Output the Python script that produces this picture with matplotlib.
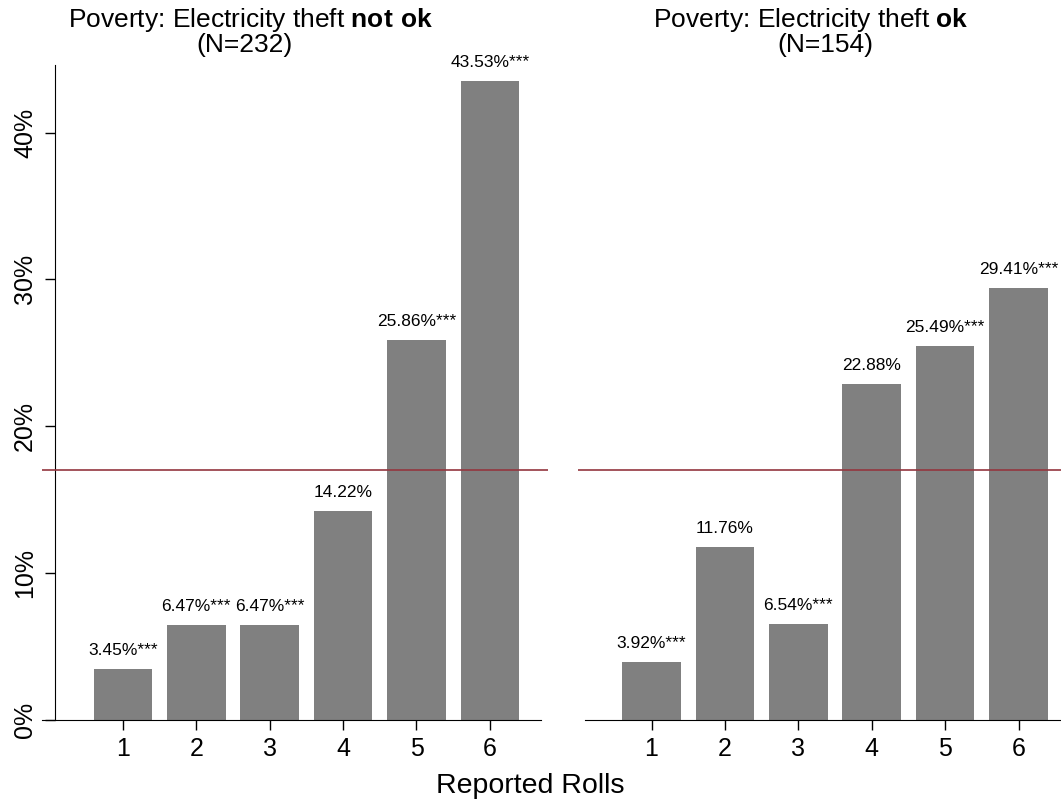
import numpy as np
import matplotlib.pyplot as plt

plt.rcParams['font.family'] = ['Liberation Sans', 'DejaVu Sans']
plt.rcParams['mathtext.fontset'] = 'custom'
plt.rcParams['mathtext.rm'] = 'Liberation Sans'
plt.rcParams['mathtext.bf'] = 'Liberation Sans:bold'

rolls = [1, 2, 3, 4, 5, 6]
share_not_ok = [3.45, 6.47, 6.47, 14.22, 25.86, 43.53]
stars_not_ok = ["***", "***", "***", "", "***", "***"]
share_ok = [3.92, 11.76, 6.54, 22.88, 25.49, 29.41]
stars_ok = ["***", "", "***", "", "***", "***"]
n_not_ok = 232
n_ok = 154
expected = 17.0  # reference line (1/6, rounded)
yticks = [0, 10, 20, 30, 40]

bar_col = "#808080"
line_col = "#94363F"

W, H = 1061, 801
fig = plt.figure(figsize=(W / 100, H / 100), dpi=100)

def px_axes(x0, x1, y0, y1):
    return fig.add_axes([x0 / W, 1 - y1 / H, (x1 - x0) / W, (y1 - y0) / H])

def to_data(px, centre1):
    return 1 + (px - centre1) / 73.4

def panel(ax, vals, stars, px0, px1, centre1, spine_px, axis_px, show_y):
    ax.set_xlim(to_data(px0, centre1), to_data(px1, centre1))
    ax.set_ylim(0, 44.6)
    ax.bar(rolls, vals, width=0.8, color=bar_col, zorder=2)
    ax.axhline(expected, color=line_col, lw=1.2, zorder=3)
    for x, v, s in zip(rolls, vals, stars):
        ax.annotate(f"{v:.2f}%{s}", (x, v), xytext=(0, 8), textcoords="offset points",
                    ha="center", va="bottom", fontsize=12.5)
    for side in ("top", "right"):
        ax.spines[side].set_visible(False)
    ax.spines["bottom"].set_bounds(to_data(axis_px[0], centre1), to_data(axis_px[1], centre1))
    ax.set_xticks(rolls)
    ax.tick_params(axis="x", length=7, width=1, labelsize=18, pad=5)
    if show_y:
        ax.spines["left"].set_position(("data", to_data(spine_px, centre1)))
        ax.set_yticks(yticks)
        ax.set_yticklabels([f"{t}%" for t in yticks], rotation=90, va="center")
        ax.tick_params(axis="y", length=7, width=1, labelsize=18, pad=6)
    else:
        ax.spines["left"].set_visible(False)
        ax.set_yticks([])

ax1 = px_axes(42, 548, 65, 720)
panel(ax1, share_not_ok, stars_not_ok, 42, 548, 122.9, 55, (42, 541), True)
ax2 = px_axes(578, 1061, 65, 720)
panel(ax2, share_ok, stars_ok, 578, 1061, 651.5, None, (585, 1061), False)

fig.text(251 / W, 1 - 20 / H, r"Poverty: Electricity theft $\bf{not\ ok}$",
         ha="center", va="center", fontsize=19)
fig.text(245 / W, 1 - 45 / H, f"(N={n_not_ok})", ha="center", va="center", fontsize=19)
fig.text(811 / W, 1 - 20 / H, r"Poverty: Electricity theft $\bf{ok}$",
         ha="center", va="center", fontsize=19)
fig.text(825 / W, 1 - 45 / H, f"(N={n_ok})", ha="center", va="center", fontsize=19)
fig.text(530 / W, 1 - 786 / H, "Reported Rolls", ha="center", va="center", fontsize=20.5)

fig.savefig("out.png", dpi=100)
